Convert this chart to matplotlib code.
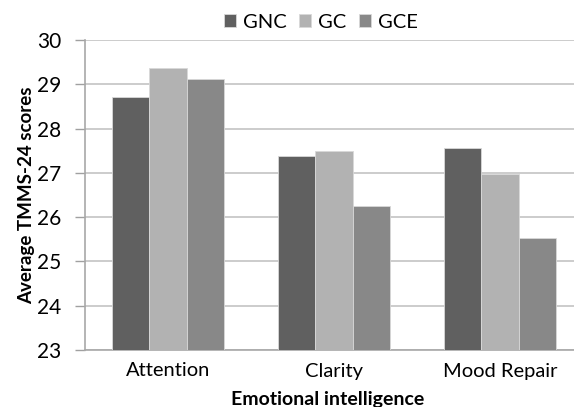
import matplotlib
matplotlib.use("Agg")
import matplotlib.pyplot as plt
import numpy as np

categories = ["Attention", "Clarity", "Mood Repair"]
series_names = ["GNC", "GC", "GCE"]
gnc = [28.71, 27.37, 27.57]
gc = [29.37, 27.49, 26.98]
gce = [29.11, 26.25, 25.52]
colors = ["#606060", "#b2b2b2", "#888888"]

plt.rcParams['font.family'] = ['Lato', 'DejaVu Sans']

W, H = 574, 407
fig = plt.figure(figsize=(W / 100, H / 100), dpi=100)
ax = fig.add_axes([85 / W, (H - 350) / H, (583 - 85) / W, 310 / H])

x = np.arange(len(categories))
bw = 0.223
for i, (vals, name, c) in enumerate(zip([gnc, gc, gce], series_names, colors)):
    ax.bar(x + (i - 1) * bw, vals, bw, color=c, label=name,
           edgecolor="#d8d8d8", linewidth=0.6, zorder=3)

ax.set_xlim(-0.5, 2.5)
ax.set_ylim(23, 30)
ax.set_yticks(range(23, 31))
ax.set_xticks(x)
ax.set_xticklabels(categories, fontsize=14.5)
ax.tick_params(axis='y', labelsize=15, length=7, color="#a0a0a0", width=1, pad=10)
ax.tick_params(axis='x', length=0, pad=9)
ax.yaxis.grid(True, color="#c4c4c4", linewidth=1.2, zorder=0)
ax.set_axisbelow(True)
for s in ["top", "right"]:
    ax.spines[s].set_visible(False)
ax.spines["left"].set_color("#a8a8a8")
ax.spines["bottom"].set_color("#a8a8a8")
ax.spines["left"].set_linewidth(1.2)
ax.spines["bottom"].set_linewidth(1.2)

fig.text(27 / W, 1 - 195 / H, "Average TMMS-24 scores", rotation=90,
         ha="center", va="center", fontsize=13.5, fontweight="bold")
fig.text(328 / W, 1 - 399 / H, "Emotional intelligence",
         ha="center", va="center", fontsize=14, fontweight="bold")

leg = fig.legend(loc="center", bbox_to_anchor=(321 / W, 1 - 22 / H), ncol=3,
                 frameon=False, fontsize=14.5, handlelength=0.6, handleheight=0.6,
                 handletextpad=0.35, columnspacing=0.6)

fig.savefig("out.png", dpi=100)
